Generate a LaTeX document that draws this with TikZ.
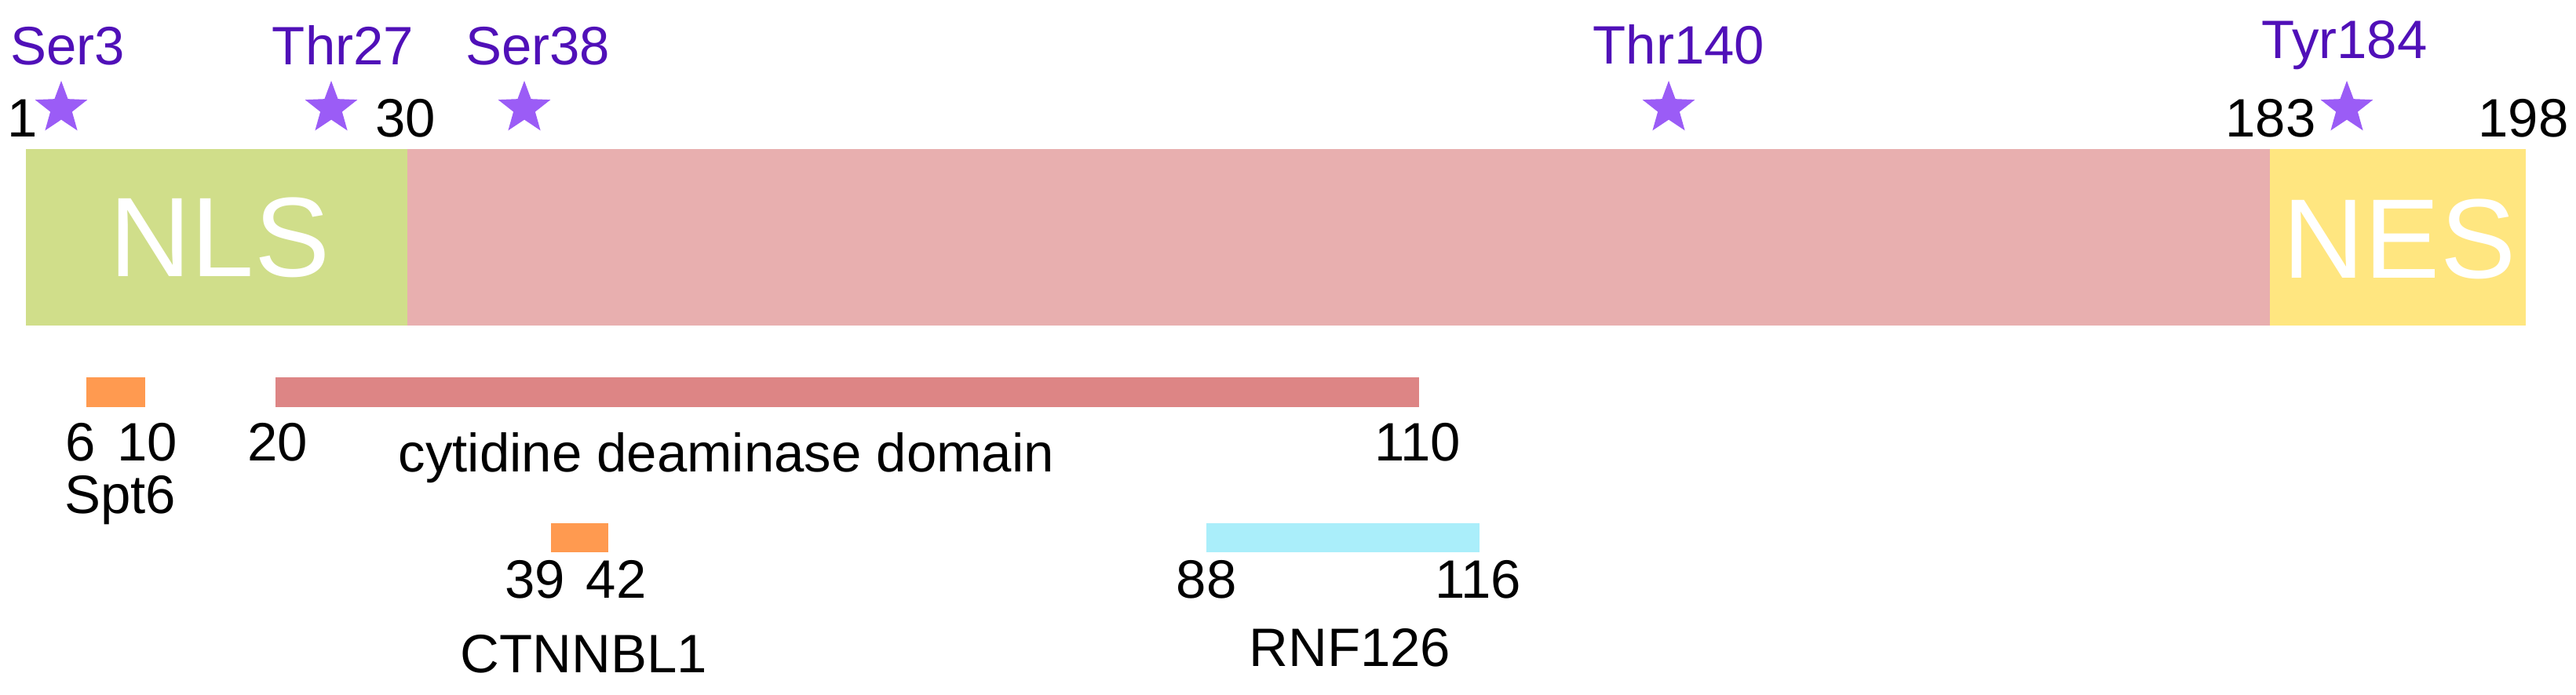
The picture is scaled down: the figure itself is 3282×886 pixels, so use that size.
\documentclass[tikz,border=0pt]{standalone}
\usepackage{fontspec}
\setmainfont{Liberation Sans}
\usetikzlibrary{shapes.geometric}
\definecolor{nlsgreen}{HTML}{D0DE8A}
\definecolor{cdpink}{HTML}{E8AFAF}
\definecolor{nesyellow}{HTML}{FFE680}
\definecolor{starpurple}{HTML}{9B5CF6}
\definecolor{ptmtext}{HTML}{5010B8}
\definecolor{boxorange}{HTML}{FF9A50}
\definecolor{cdbar}{HTML}{DD8585}
\definecolor{cyanbar}{HTML}{AAEEFA}
\begin{document}
\begin{tikzpicture}[x=0.01cm,y=-0.01cm,
  lbl/.style={font=\fontsize{19.6}{20}\selectfont, inner sep=0, anchor=base},
  ptm/.style={lbl, text=ptmtext},
  pstar/.style={star, star points=5, star point ratio=2.4, fill=starpurple, minimum size=0.7cm, inner sep=0, draw=none},
  big/.style={font=\fontsize{41}{41}\selectfont, text=white, inner sep=0, anchor=base}]
\useasboundingbox (0,0) rectangle (3282,886);
\fill[white] (0,0) rectangle (3282,886);
% main protein bar
\fill[nlsgreen] (33,190) rectangle (519,415);
\fill[cdpink] (519,190) rectangle (2892,415);
\fill[nesyellow] (2892,190) rectangle (3218,415);
\node[big] (nls) at (280,353) {NLS};
\node[big] (nes) at (3057,355) {NES};
% position numbers
\node[lbl] (p1) at (29,175) {1};
\node[lbl] (p30) at (517,175) {30};
\node[lbl] (p183) at (2893,175) {183};
\node[lbl] (p198) at (3215,175) {198};
% phosphorylation sites
\node[pstar] (s3) at (78,138) {};
\node[pstar] (t27) at (422,138) {};
\node[pstar] (s38) at (668,138) {};
\node[pstar] (t140) at (2126,138) {};
\node[pstar] (y184) at (2990,138) {};
\node[ptm] (ls3) at (86,83) {Ser3};
\node[ptm] (lt27) at (437,83) {Thr27};
\node[ptm] (ls38) at (685,83) {Ser38};
\node[ptm] (lt140) at (2139,82) {Thr140};
\node[ptm] (ly184) at (2987,75) {Tyr184};
% Spt6
\fill[boxorange] (110,481) rectangle (185,519);
\node[lbl] (n6) at (103,588) {6};
\node[lbl] (n10) at (188,588) {10};
\node[lbl] (spt6) at (153,655) {Spt6};
% cytidine deaminase domain
\fill[cdbar] (351,481) rectangle (1808,519);
\node[lbl] (n20) at (354,588) {20};
\node[lbl] (n110) at (1806,588) {110};
\node[lbl, anchor=base west] (cdd) at (507,602) {cytidine deaminase domain};
% CTNNBL1
\fill[boxorange] (702,667) rectangle (775,704);
\node[lbl] (n39) at (682,763) {39};
\node[lbl] (n42) at (785,763) {42};
\node[lbl] (ctn) at (744,857) {CTNNBL1};
% RNF126
\fill[cyanbar] (1537,667) rectangle (1885,704);
\node[lbl] (n88) at (1537,763) {88};
\node[lbl] (n116) at (1883,763) {116};
\node[lbl] (rnf) at (1720,850) {RNF126};
\end{tikzpicture}
\end{document}
